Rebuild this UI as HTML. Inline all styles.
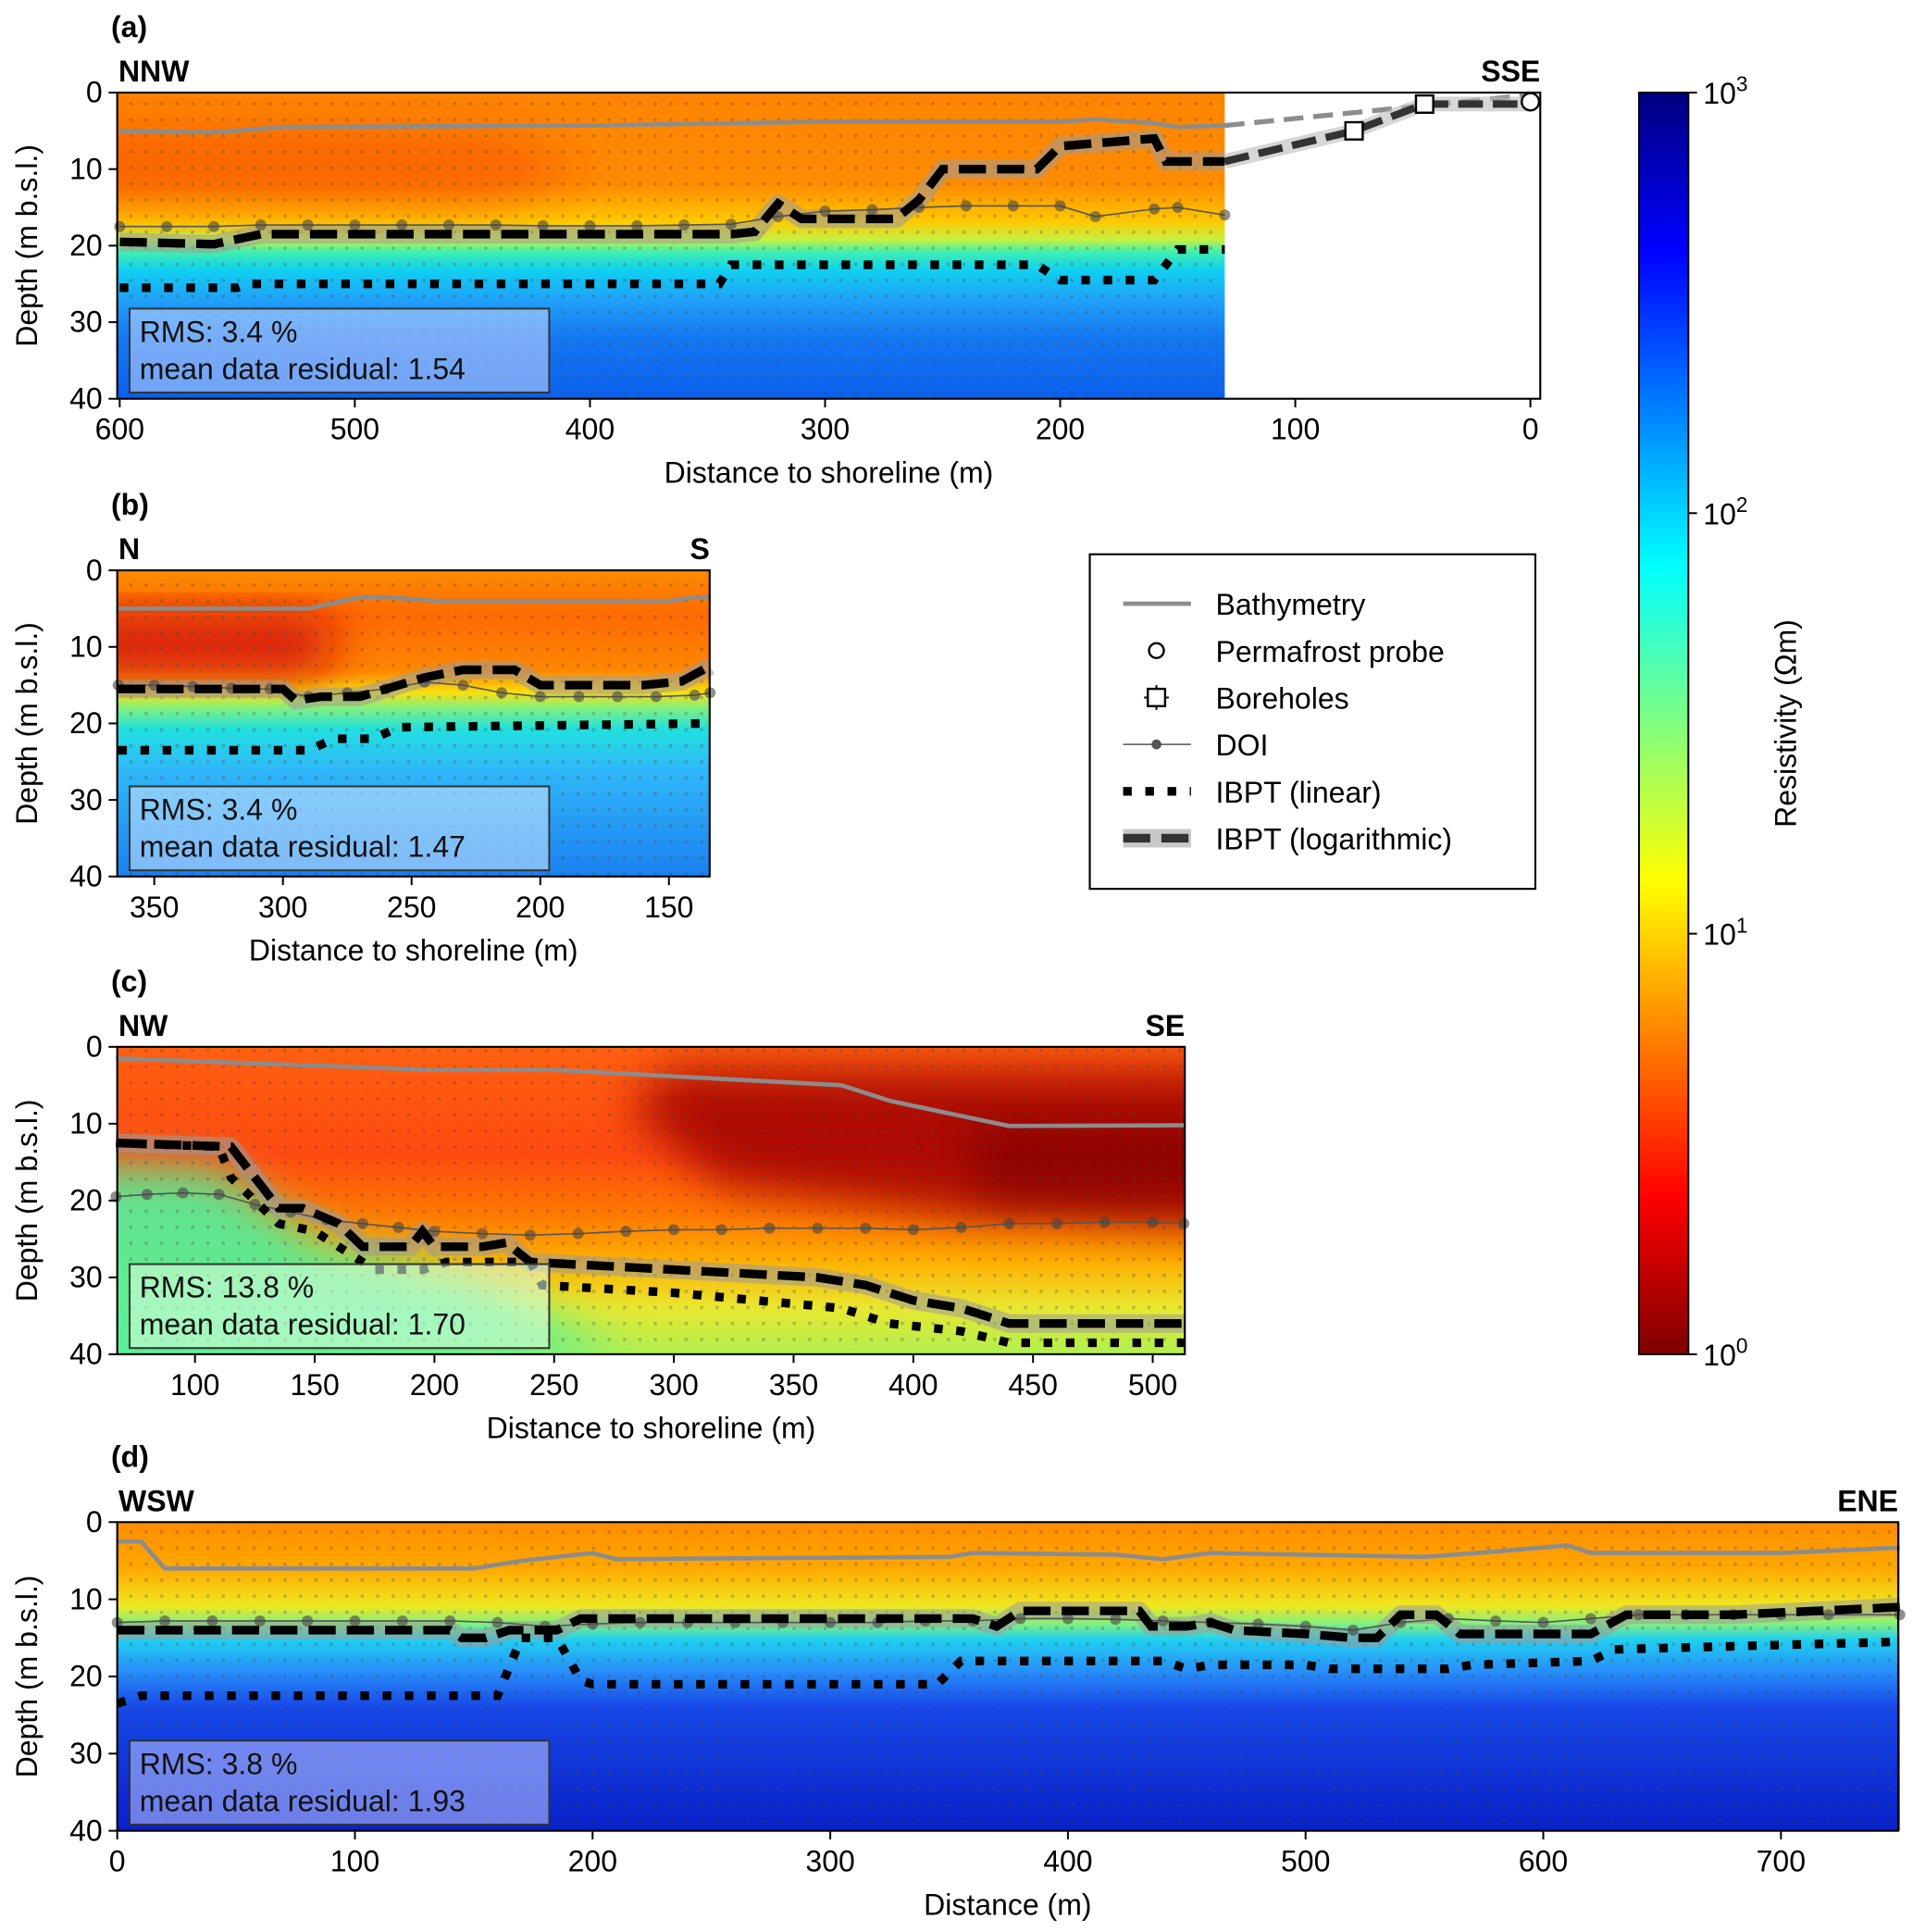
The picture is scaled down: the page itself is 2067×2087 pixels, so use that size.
<!DOCTYPE html>
<html><head><meta charset="utf-8"><style>
html,body{margin:0;padding:0;background:#fff;}
svg{display:block;font-family:"Liberation Sans","DejaVu Sans",sans-serif;}
</style></head><body>
<svg id="fig" width="2067" height="2087" viewBox="0 0 1550 1565" xmlns="http://www.w3.org/2000/svg">
<defs>
<pattern id="dots" width="12.5" height="13" patternUnits="userSpaceOnUse"><circle cx="6" cy="6" r="1.4" fill="#444" opacity="0.3"/></pattern>
<filter id="soft" x="-30%" y="-30%" width="160%" height="160%"><feGaussianBlur stdDeviation="18"/></filter>
<clipPath id="clipA"><rect x="95" y="75" width="897" height="248"/></clipPath>
<clipPath id="clipB"><rect x="95" y="462" width="480" height="248"/></clipPath>
<clipPath id="clipC"><rect x="95" y="848" width="865" height="249"/></clipPath>
<linearGradient id="gA" x1="0" y1="0" x2="0" y2="1">
<stop offset="0" stop-color="#ff8400"/><stop offset="0.3" stop-color="#ff8c00"/><stop offset="0.42" stop-color="#ffc800"/><stop offset="0.48" stop-color="#c8f040"/><stop offset="0.52" stop-color="#40f0b0"/><stop offset="0.58" stop-color="#10d0f0"/><stop offset="0.68" stop-color="#20a0f8"/><stop offset="0.8" stop-color="#1578f0"/><stop offset="1" stop-color="#0a60ec"/></linearGradient>
<linearGradient id="gB" x1="0" y1="0" x2="0" y2="1">
<stop offset="0" stop-color="#ff8a00"/><stop offset="0.15" stop-color="#ff6a00"/><stop offset="0.33" stop-color="#ff8800"/><stop offset="0.4" stop-color="#f8e010"/><stop offset="0.45" stop-color="#80f080"/><stop offset="0.52" stop-color="#20e0e0"/><stop offset="0.65" stop-color="#30b8f8"/><stop offset="1" stop-color="#1a80f0"/></linearGradient>
<linearGradient id="gBred" x1="0" y1="0" x2="1" y2="0"><stop offset="0" stop-color="#d00808" stop-opacity="0.95"/><stop offset="0.45" stop-color="#e01010" stop-opacity="0.6"/><stop offset="0.7" stop-color="#e01010" stop-opacity="0"/></linearGradient>
<linearGradient id="gC" x1="0" y1="0" x2="0" y2="1">
<stop offset="0" stop-color="#ff6010"/><stop offset="0.35" stop-color="#ff4a10"/><stop offset="0.55" stop-color="#ff7a00"/><stop offset="0.7" stop-color="#ffb000"/><stop offset="0.85" stop-color="#e8e830"/><stop offset="1" stop-color="#b0f050"/></linearGradient>
<linearGradient id="gCred" x1="0" y1="0" x2="1" y2="0"><stop offset="0" stop-color="#b00000" stop-opacity="0.3"/><stop offset="0.5" stop-color="#a00000" stop-opacity="0.85"/><stop offset="1" stop-color="#900000" stop-opacity="1"/></linearGradient>
<linearGradient id="gD" x1="0" y1="0" x2="0" y2="1">
<stop offset="0" stop-color="#ff8c00"/><stop offset="0.15" stop-color="#ffa800"/><stop offset="0.27" stop-color="#f0e820"/><stop offset="0.33" stop-color="#80f080"/><stop offset="0.38" stop-color="#20d0f0"/><stop offset="0.48" stop-color="#2890f8"/><stop offset="0.6" stop-color="#1848e8"/><stop offset="1" stop-color="#0820c8"/></linearGradient>
<linearGradient id="jet" x1="0" y1="1" x2="0" y2="0">
<stop offset="0" stop-color="#7f0000"/><stop offset="0.125" stop-color="#ff0000"/><stop offset="0.375" stop-color="#ffff00"/><stop offset="0.625" stop-color="#00ffff"/><stop offset="0.875" stop-color="#0000ff"/><stop offset="1" stop-color="#00007f"/></linearGradient>
</defs>
<g id="root"></g>
</svg>
<script>
// ---- data arrays ----
const bathyA_x=[600,560,530,400,300,200,185,160,150,130];
const bathyA_y=[5,5.2,4.5,4.3,3.8,3.8,3.5,4,4.5,4.3];
const bathyAext_x=[130,0];
const bathyAext_y=[4.3,0.3];
const doiA_x=[600,580,560,540,520,500,480,460,440,420,400,380,360,340,320,300,280,260,240,220,200,185,160,150,130];
const doiA_y=[17.5,17.5,17.5,17.3,17.3,17.3,17.3,17.3,17.3,17.4,17.4,17.4,17.3,17.2,16.2,15.5,15.3,15,14.8,14.8,14.8,16.2,15.2,15,16];
const logA_x=[600,560,540,340,330,320,310,270,260,250,210,200,160,155,130];
const logA_y=[19.5,19.8,18.5,18.5,18.2,14.5,16.5,16.5,14,10,10,7,6,9,9];
const logAext_x=[130,75,45,0];
const logAext_y=[9,5,1.5,1.5];
const boreA_x=[75,45];
const boreA_y=[5,1.5];
const probeA_x=[0];
const probeA_y=[1.2];
const linA_x=[600,550,545,345,340,210,200,160,150,130];
const linA_y=[25.5,25.5,25,25,22.5,22.5,24.5,24.5,20.5,20.5];

const bathyB_x=[364,290,270,260,240,150,140,134];
const bathyB_y=[5,5,3.5,3.5,4,4,3.5,3.5];
const doiB_x=[364,350,335,320,305,290,275,260,245,230,215,200,185,170,155,140,134];
const doiB_y=[15,15,15.2,15.4,15.5,16.5,16,15.5,14.6,15,16,16.5,16.5,16.5,16.5,16.3,16];
const logB_x=[364,300,295,285,270,245,230,210,200,160,145,134];
const logB_y=[15.5,15.5,17,16.5,16.5,14,13,13,15,15,14.5,12.5];
const linB_x=[364,290,280,265,255,134];
const linB_y=[23.5,23.5,22,22,20.5,20];

const bathyC_x=[67,200,250,370,390,420,440,513];
const bathyC_y=[1.5,3,3,5,7,9,10.3,10.2];
const doiC_x=[67,80,95,110,125,140,155,170,185,200,220,240,260,280,300,320,340,360,380,400,420,440,460,480,500,513];
const doiC_y=[19.5,19.2,19,19.2,20.5,21.5,22.5,23,23.5,24,24.3,24.5,24.3,24,23.8,23.8,23.6,23.6,23.6,23.8,23.5,23,23,22.8,22.8,23];
const logC_x=[67,115,120,135,145,160,170,190,195,200,220,230,240,300,360,380,400,420,440,513];
const logC_y=[12.5,13,15,21,21,23,26,26,24,26,26,25.5,28,29,30,31,33,34,36,36];
const linC_x=[67,110,115,125,135,150,165,175,195,205,240,245,300,370,390,420,440,513];
const linC_y=[12.5,13,17,20,23,24,27,29,29,28,28,31,32,34,36,37,38.5,38.5];

const bathyD_x=[0,10,20,150,170,200,210,350,360,420,440,460,550,580,610,620,640,700,750];
const bathyD_y=[2.5,2.5,6,6,5,4,4.8,4.5,4,4.2,4.8,4,4.5,3.8,3,4,4,4,3.3];
const doiD_x=[0,20,40,60,80,100,120,140,160,180,200,220,240,260,280,300,320,340,360,380,400,420,440,460,480,500,520,540,560,580,600,620,640,660,680,700,720,750];
const doiD_y=[13,12.8,12.8,12.8,12.8,12.8,12.8,12.8,13,13.5,13.2,13,13,13,13,13,13,12.8,12.8,12.5,12.5,12.6,12.8,13,13.2,13.5,14,13,12.5,12.8,13,12.5,12,12,12,12,12,12];
const logD_x=[0,140,145,155,165,185,195,360,370,380,430,435,450,460,470,500,520,530,540,555,565,620,635,680,750];
const logD_y=[14,14,15,15,14,14,12.5,12.5,13.5,11.5,11.5,13.5,13.5,13,14,14.5,15,15,12,12,14.5,14.5,12,12,11];
const linD_x=[0,10,160,170,185,195,200,345,355,440,450,460,500,510,560,570,620,630,750];
const linD_y=[23.5,22.5,22.5,15,15,20.5,21,21,18,18,19,18.5,18.5,19,19,18.5,18,16.5,15.5];

const cbTicks=[0,1,2,3];

// ---- helpers ----
const NS="http://www.w3.org/2000/svg";
const root=document.getElementById('root');
function mk(tag,attrs,parent){const e=document.createElementNS(NS,tag);for(const k in attrs)e.setAttribute(k,attrs[k]);(parent||root).appendChild(e);return e;}
function txt(s,attrs,parent){const e=mk('text',attrs,parent);e.textContent=s;return e;}
function axis(x0,x1,d0,d1,y0,y1){return{sx:d=>x0+(d-d0)/(d1-d0)*(x1-x0),sy:v=>y0+v/40*(y1-y0),x0,x1,y0,y1};}
function pathD(ax,xs,ys){return xs.map((d,i)=>(i?'L':'M')+ax.sx(d).toFixed(1)+','+ax.sy(ys[i]).toFixed(1)).join(' ');}
function poly(ax,pts){return pts.map(p=>ax.sx(p[0]).toFixed(1)+','+ax.sy(p[1]).toFixed(1)).join(' ');}

function drawLines(ax,name,bx,by,dx,dy,lx,ly,nx,ny){
  const g=mk('g',{});
  
  
  const b=mk('path',{d:pathD(ax,bx,by),fill:'none',stroke:'#8c8c8c','stroke-width':3.5},g);
  
  
  const h=mk('path',{d:pathD(ax,lx,ly),fill:'none',stroke:'#9a9a9a','stroke-opacity':0.55,'stroke-width':15,'stroke-linejoin':'round'},g);
  
  
  const dl=mk('path',{d:pathD(ax,dx,dy),fill:'none',stroke:'#555','stroke-width':1.2},g);
  
  
  dx.forEach((d,i)=>{const c=mk('circle',{cx:ax.sx(d),cy:ax.sy(dy[i]),r:4.5,fill:'#444','fill-opacity':0.6},g);
    
    });
  const lg=mk('path',{d:pathD(ax,lx,ly),fill:'none',stroke:'#000','stroke-width':7,'stroke-dasharray':'22 9'},g);
  
  
  const ln=mk('path',{d:pathD(ax,nx,ny),fill:'none',stroke:'#000','stroke-width':7,'stroke-dasharray':'7 11'},g);
  
  
}
function frame(ax,name,ticks,xlabel,left,right,plabel,rms,res,boxFill){
  const f=mk('rect',{x:ax.x0,y:ax.y0,width:ax.x1-ax.x0,height:ax.y1-ax.y0,fill:'none',stroke:'#000','stroke-width':1.6});
  
  
  ticks.forEach(t=>{const x=ax.sx(t);mk('line',{x1:x,x2:x,y1:ax.y1,y2:ax.y1+7,stroke:'#000','stroke-width':1.5});
    const e=txt(String(t),{x:x,y:ax.y1+33,'font-size':24,'text-anchor':'middle'});
    
    });
  [0,10,20,30,40].forEach(v=>{const y=ax.sy(v);mk('line',{x1:ax.x0-7,x2:ax.x0,y1:y,y2:y,stroke:'#000','stroke-width':1.5});
    const e=txt(String(v),{x:ax.x0-12,y:y+8,'font-size':24,'text-anchor':'end'});
    
    });
  const xl=txt(xlabel,{x:(ax.x0+ax.x1)/2,y:ax.y1+68,'font-size':24,'text-anchor':'middle'});
  
  
  const cy=(ax.y0+ax.y1)/2;
  const yl=txt('Depth (m b.s.l.)',{x:0,y:0,'font-size':24,'text-anchor':'middle',transform:`translate(30,${cy}) rotate(-90)`});
  
  
  const pl=txt(plabel,{x:90,y:ax.y0-45,'font-size':24,'font-weight':'bold'});
  
  
  const l=txt(left,{x:ax.x0+1,y:ax.y0-9,'font-size':24,'font-weight':'bold'});
  
  
  const r=txt(right,{x:ax.x1,y:ax.y0-9,'font-size':24,'font-weight':'bold','text-anchor':'end'});
  
  
  const bx=mk('rect',{x:ax.x0+10,y:ax.y1-73,width:340,height:68,fill:boxFill,'fill-opacity':0.55,stroke:'#333','stroke-width':1.5});
  
  
  const t1=txt('RMS: '+rms+' %',{x:ax.x0+18,y:ax.y1-46,'font-size':24,fill:'#111'});
  
  
  const t2=txt('mean data residual: '+res,{x:ax.x0+18,y:ax.y1-16,'font-size':24,fill:'#111'});
  
  
}
function bg(ax,name,x1d,fill){
  const w=ax.sx(x1d)-ax.x0;
  const r=mk('rect',{x:ax.x0,y:ax.y0,width:w,height:ax.y1-ax.y0,fill:fill});
  
  
  return w;
}
function dotsOver(ax,name,x1d){
  const d=mk('rect',{x:ax.x0,y:ax.y0,width:ax.sx(x1d)-ax.x0,height:ax.y1-ax.y0,fill:'url(#dots)'});
  
  
}
function blob(ax,name,clip,pts,fill,op){
  const g=mk('g',{'clip-path':'url(#'+clip+')'});
  const p=mk('polygon',{points:poly(ax,pts),fill:fill,'fill-opacity':op,filter:'url(#soft)'},g);
  
  
}

// ---- panel a ----
const A=axis(97,1240,600,0,75,323);
A.x0=95;A.x1=1248;
bg(A,'panel-a',130,'url(#gA)');
blob(A,'panel-a-conductive-zone','clipA',[[640,4],[440,5],[400,10],[440,15],[640,15]],'#f03010',0.4);
dotsOver(A,'panel-a',130);
drawLines(A,'panel-a',bathyA_x,bathyA_y,doiA_x,doiA_y,logA_x,logA_y,linA_x,linA_y);
{const e1=mk('path',{d:pathD(A,bathyAext_x,bathyAext_y),fill:'none',stroke:'#8c8c8c','stroke-width':4,'stroke-dasharray':'16 8'});


const e0=mk('path',{d:pathD(A,logAext_x,logAext_y),fill:'none',stroke:'#bbb','stroke-width':12,'stroke-opacity':0.6});


const e2=mk('path',{d:pathD(A,logAext_x,logAext_y),fill:'none',stroke:'#333','stroke-width':6,'stroke-dasharray':'20 8'});


boreA_x.forEach((d,i)=>{const s=mk('rect',{x:A.sx(d)-7,y:A.sy(boreA_y[i])-7,width:14,height:14,fill:'#fff',stroke:'#000','stroke-width':1.8});

});
probeA_x.forEach((d,i)=>{const c=mk('circle',{cx:A.sx(d),cy:A.sy(probeA_y[i]),r:7,fill:'#fff',stroke:'#000','stroke-width':1.8});

});}
frame(A,'panel-a',[600,500,400,300,200,100,0],'Distance to shoreline (m)','NNW','SSE','(a)','3.4','1.54','#c8d8ff');

// ---- panel b ----
const B=axis(125,542,350,150,462,710);
B.x0=95;B.x1=575;
bg(B,'panel-b',134,'url(#gB)');
blob(B,'panel-b-conductive-zone','clipB',[[400,5.5],[290,5.5],[275,9],[290,14],[400,14]],'#d00808',0.85);
dotsOver(B,'panel-b',134);
drawLines(B,'panel-b',bathyB_x,bathyB_y,doiB_x,doiB_y,logB_x,logB_y,linB_x,linB_y);
frame(B,'panel-b',[350,300,250,200,150],'Distance to shoreline (m)','N','S','(b)','3.4','1.47','#d0e8ff');

// ---- panel c ----
const C=axis(158,934,100,500,848,1097);
C.x0=95;C.x1=960;
bg(C,'panel-c',513,'url(#gC)');
blob(C,'panel-c-resistive-zone','clipC',[[40,15],[110,16],[150,25],[220,31],[280,40],[40,45]],'#50f0a0',0.9);
blob(C,'panel-c-conductive-zone','clipC',[[300,3],[560,3],[560,24],[420,22],[320,18],[280,8]],'#a00000',0.85);
blob(C,'panel-c-deep-conductive-zone','clipC',[[420,10],[560,10],[560,20],[430,20]],'#800000',0.7);
dotsOver(C,'panel-c',513);
drawLines(C,'panel-c',bathyC_x,bathyC_y,doiC_x,doiC_y,logC_x,logC_y,linC_x,linC_y);
frame(C,'panel-c',[100,150,200,250,300,350,400,450,500],'Distance to shoreline (m)','NW','SE','(c)','13.8','1.70','#e0ffe0');

// ---- panel d ----
const D=axis(95,1443,0,700,1233,1483);
D.x0=95;D.x1=1538;
bg(D,'panel-d',750,'url(#gD)');
dotsOver(D,'panel-d',750);
drawLines(D,'panel-d',bathyD_x,bathyD_y,doiD_x,doiD_y,logD_x,logD_y,linD_x,linD_y);
frame(D,'panel-d',[0,100,200,300,400,500,600,700],'Distance (m)','WSW','ENE','(d)','3.8','1.93','#c0c8ff');

// ---- colorbar ----
{const cb=mk('rect',{x:1328,y:75,width:40,height:1022,fill:'url(#jet)',stroke:'#000','stroke-width':1.5});


const cy=e=>1097-e/3*1022;
cbTicks.forEach(e=>{const y=cy(e);mk('line',{x1:1368,x2:1375,y1:y,y2:y,stroke:'#000','stroke-width':1.5});
  const t=mk('text',{x:1380,y:y+9,'font-size':24});
  
  
  t.appendChild(document.createTextNode('10'));
  const s=document.createElementNS(NS,'tspan');s.setAttribute('dy','-10');s.setAttribute('font-size','17');s.textContent=String(e);t.appendChild(s);});
const l=txt('Resistivity (Ωm)',{x:0,y:0,'font-size':24,'text-anchor':'middle',transform:'translate(1455,586) rotate(-90)'});

}

// ---- legend ----
{const g=mk('g',{});


const b=mk('rect',{x:883,y:449,width:361,height:271,fill:'#fff',stroke:'#000','stroke-width':1.6},g);


const labels=['Bathymetry','Permafrost probe','Boreholes','DOI','IBPT (linear)','IBPT (logarithmic)'];
labels.forEach((s,i)=>{const y=489+i*38;
  const t=txt(s,{x:985,y:y+9,'font-size':24},g);
  
  });
mk('line',{x1:910,x2:965,y1:489,y2:489,stroke:'#8c8c8c','stroke-width':3.5},g);
mk('circle',{cx:937,cy:527,r:6,fill:'#fff',stroke:'#000','stroke-width':1.8},g);
mk('line',{x1:937,x2:937,y1:555,y2:575,stroke:'#000','stroke-width':1.5},g);
mk('line',{x1:927,x2:947,y1:565,y2:565,stroke:'#000','stroke-width':1.5},g);
mk('rect',{x:930,y:558,width:14,height:14,fill:'#fff',stroke:'#000','stroke-width':1.8},g);
mk('line',{x1:910,x2:965,y1:603,y2:603,stroke:'#555','stroke-width':1.2},g);
mk('circle',{cx:937,cy:603,r:4,fill:'#555'},g);
mk('line',{x1:910,x2:965,y1:641,y2:641,stroke:'#000','stroke-width':7,'stroke-dasharray':'7 11'},g);
mk('line',{x1:910,x2:965,y1:679,y2:679,stroke:'#9a9a9a','stroke-opacity':0.55,'stroke-width':15},g);
mk('line',{x1:910,x2:965,y1:679,y2:679,stroke:'#333','stroke-width':7,'stroke-dasharray':'22 9'},g);}
</script>
</body></html>
